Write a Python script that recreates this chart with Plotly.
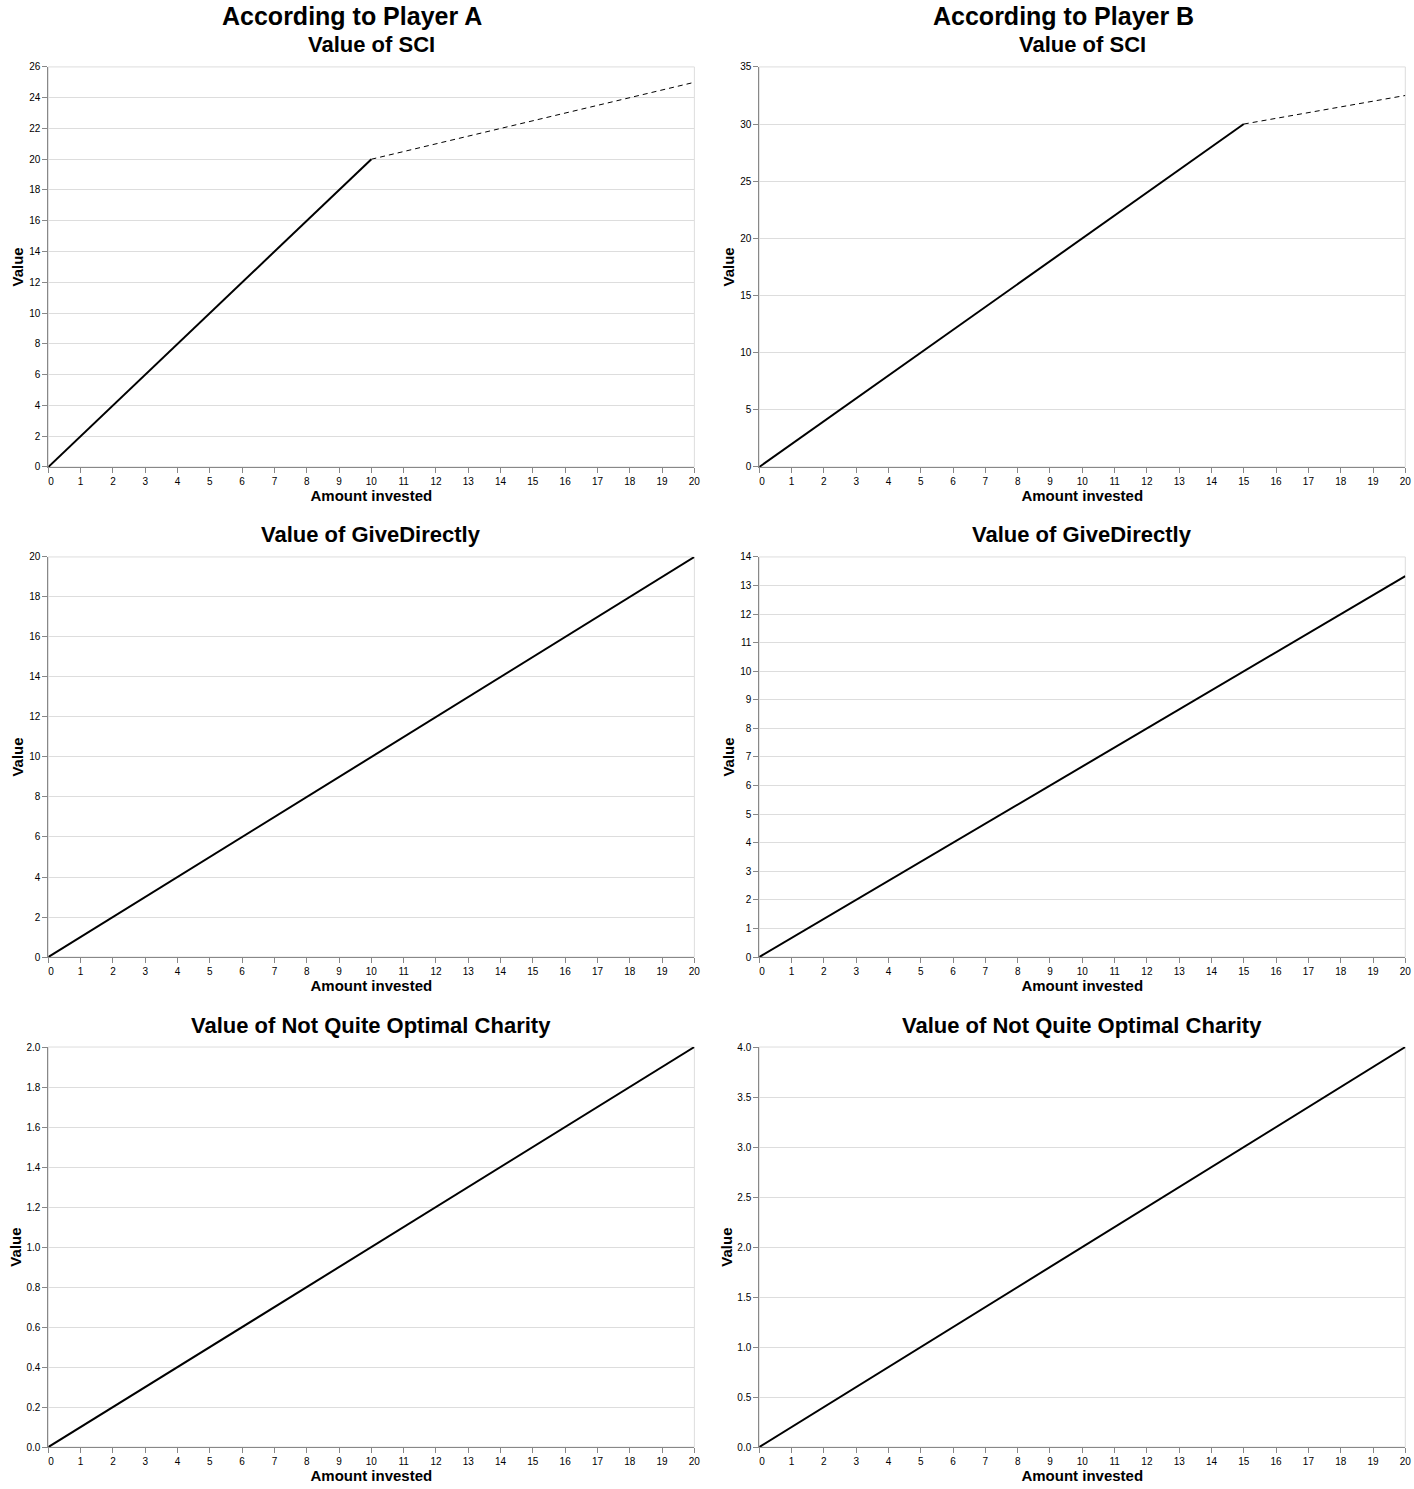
import plotly.graph_objects as go
from plotly.subplots import make_subplots

# amounts invested (x) and value (y) for each charity, per player
sci_a_x = [0, 10]
sci_a_y = [0, 20]
sci_a_ext_x = [10, 20]
sci_a_ext_y = [20, 25]

sci_b_x = [0, 15]
sci_b_y = [0, 30]
sci_b_ext_x = [15, 20]
sci_b_ext_y = [30, 32.5]

gd_a_x = [0, 20]
gd_a_y = [0, 20]
gd_b_x = [0, 20]
gd_b_y = [0, 13.333]

nq_a_x = [0, 20]
nq_a_y = [0, 2]
nq_b_x = [0, 20]
nq_b_y = [0, 4]

x_ticks = list(range(0, 21))
# the first label sits flush inside the axis start
x_labels = ["\u00a0\u00a00"] + [str(v) for v in x_ticks[1:]]

player_titles = ["According to Player A", "According to Player B"]
row_titles = ["Value of SCI", "Value of GiveDirectly", "Value of Not Quite Optimal Charity"]

W, H = 1414, 1489
FONT = "Liberation Sans, Arial, sans-serif"

# the snapshot comes out slightly shrunk/shifted, so pixel targets are corrected for it
SX, AX = 0.993, 3.6
SY, AY = 0.9925, 6.1


def px_x(p):
    return (p - AX) / SX / W


def px_y(p):
    return 1 - (p - AY) / SY / H


fig = make_subplots(rows=3, cols=2)

# (row, col): solid, dashed-extension
panels = {
    (1, 1): ((sci_a_x, sci_a_y), (sci_a_ext_x, sci_a_ext_y)),
    (1, 2): ((sci_b_x, sci_b_y), (sci_b_ext_x, sci_b_ext_y)),
    (2, 1): ((gd_a_x, gd_a_y), None),
    (2, 2): ((gd_b_x, gd_b_y), None),
    (3, 1): ((nq_a_x, nq_a_y), None),
    (3, 2): ((nq_b_x, nq_b_y), None),
}
for (r, c), (solid, ext) in panels.items():
    fig.add_trace(go.Scatter(x=solid[0], y=solid[1], mode="lines",
                             line=dict(color="black", width=2), showlegend=False), row=r, col=c)
    if ext:
        fig.add_trace(go.Scatter(x=ext[0], y=ext[1], mode="lines",
                                 line=dict(color="black", width=1, dash="5px,4px"), showlegend=False),
                      row=r, col=c)

# pixel layout of plot areas (as seen in the reference)
col_px = [(46, 693), (758, 1405)]
row_px = [(67, 467), (557, 957), (1047, 1447)]
y_ranges = {(1, 1): (26, 2, None), (1, 2): (35, 5, None),
            (2, 1): (20, 2, None), (2, 2): (14, 1, None),
            (3, 1): (2, 0.2, ".1f"), (3, 2): (4, 0.5, ".1f")}

annotations = []
shapes = []
for r in range(1, 4):
    for c in range(1, 3):
        x0, x1 = col_px[c - 1]
        y0, y1 = row_px[r - 1]
        top, step, fmt = y_ranges[(r, c)]
        fig.update_xaxes(domain=[px_x(x0), px_x(x1)], range=[0, 20],
                         tickmode="array", tickvals=x_ticks, ticktext=x_labels,
                         showgrid=False, zeroline=False, showline=True, linecolor="#888",
                         ticks="outside", ticklen=5, tickcolor="#888",
                         tickfont=dict(size=10, color="#000", family=FONT),
                         title=dict(text="<b>Amount invested</b>", standoff=4,
                                    font=dict(size=15, family=FONT, color="#000")),
                         row=r, col=c)
        fig.update_yaxes(domain=[px_y(y1), px_y(y0)], range=[0, top], dtick=step, tick0=0,
                         tickformat=fmt, showgrid=True, gridcolor="#ddd", zeroline=False,
                         showline=True, linecolor="#888", ticks="outside", ticklen=5, tickcolor="#888",
                         tickfont=dict(size=10, color="#000", family=FONT),
                         title=dict(text="<b>Value</b>", standoff=1,
                                    font=dict(size=15, family=FONT, color="#000")),
                         row=r, col=c)
        # top/right frame of the view
        idx = (r - 1) * 2 + c
        sfx = "" if idx == 1 else str(idx)
        shapes.append(dict(type="rect", xref=f"x{sfx} domain", yref=f"y{sfx} domain",
                           x0=0, x1=1, y0=0, y1=1, line=dict(color="#ddd", width=1), layer="below"))
        # subplot title
        ty = y0 - 22 if r > 1 else 45
        annotations.append(dict(text=f"<b>{row_titles[r - 1]}</b>", x=px_x((x0 + x1) / 2), y=px_y(ty),
                                xref="paper", yref="paper", showarrow=False, xanchor="center",
                                yanchor="middle", font=dict(size=22, family=FONT, color="#000")))

for c in range(2):
    x0, x1 = col_px[c]
    annotations.append(dict(text=f"<b>{player_titles[c]}</b>", x=px_x((x0 + x1) / 2 - 19),
                            y=px_y(16), xref="paper", yref="paper", showarrow=False,
                            xanchor="center", yanchor="middle",
                            font=dict(size=25, family=FONT, color="#000")))

fig.update_layout(width=W, height=H, margin=dict(l=0, r=0, t=0, b=0),
                  plot_bgcolor="white", paper_bgcolor="white",
                  annotations=annotations, shapes=shapes, showlegend=False)

# drop the page's default body margin so the figure fills the window exactly
fig.write_html("out.html", config={"displayModeBar": False},
               post_script="document.body.style.margin='0';")
